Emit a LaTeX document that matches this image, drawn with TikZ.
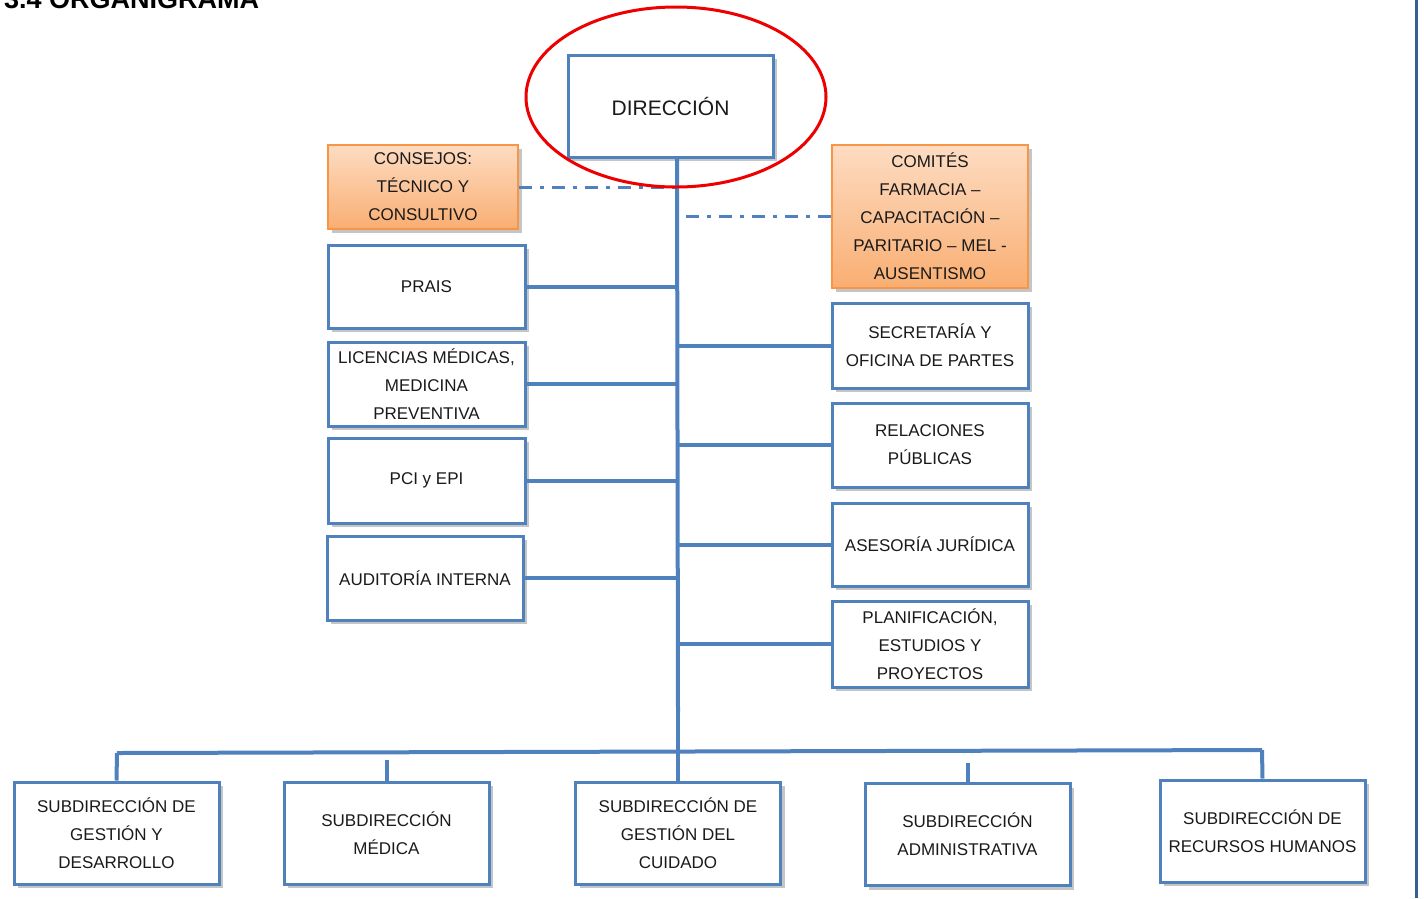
\documentclass[tikz,border=0pt]{standalone}
\usepackage{fontspec}
\setmainfont{Liberation Sans}
\usetikzlibrary{shadows,shapes.geometric}
\definecolor{boxblue}{HTML}{4F81BD}
\definecolor{edgeblue}{HTML}{365F91}
\definecolor{orgtop}{HTML}{FDDCC2}
\definecolor{orgbot}{HTML}{F9AE72}
\definecolor{orgline}{HTML}{F79646}
\definecolor{txt}{HTML}{1A1A1A}
\definecolor{ellred}{HTML}{EE0000}
\tikzset{
  box/.style={draw=boxblue, line width=3pt, fill=white, text=txt, align=center,
    font=\fontsize{17}{28}\selectfont, inner sep=0pt,
    drop shadow={opacity=0.45, shadow xshift=4pt, shadow yshift=-4pt}},
  obox/.style={draw=orgline, line width=1.2pt, top color=orgtop, bottom color=orgbot,
    text=txt, align=center, font=\fontsize{17}{28}\selectfont, inner sep=0pt,
    drop shadow={opacity=0.45, shadow xshift=4pt, shadow yshift=-4pt}},
  conn/.style={draw=boxblue, line width=4pt},
  dd/.style={draw=boxblue, line width=3pt, dash pattern=on 13pt off 8pt on 4pt off 8pt},
}
\begin{document}
\begin{tikzpicture}[x=1pt,y=-1pt]
\useasboundingbox (0,0) rectangle (1424,898);
\fill[white] (0,0) rectangle (1424,898);
% title (cut by the top edge, as in the reference)
\node[anchor=base west, inner sep=0pt, font=\fontsize{27}{30}\selectfont\bfseries, text=black] (title) at (4,8) {3.4 ORGANIGRAMA};
% right border line
\coordinate (rbt) at (1416,0);
\coordinate (rbb) at (1416,898);
\draw[edgeblue, line width=3pt] (rbt) -- (rbb);

% trunk coordinates
\coordinate (ttop) at (677,157);
\coordinate (tmid) at (678,712);
\coordinate (busL) at (117,753);
\coordinate (busR) at (1262,750);

% boxes
\node[box, minimum width=205pt, minimum height=102pt, font=\fontsize{21}{24}\selectfont] (dir) at (670.5,106) {DIRECCIÓN};

\node[obox, minimum width=190pt, minimum height=84pt] (cons) at (423,187) {CONSEJOS:\\TÉCNICO Y\\CONSULTIVO};
\node[obox, minimum width=196pt, minimum height=143pt] (com) at (930,216.5) {COMITÉS\\FARMACIA –\\CAPACITACIÓN –\\PARITARIO – MEL -\\AUSENTISMO};

\node[box, minimum width=197pt, minimum height=83pt] (prais) at (426.5,286.5) {PRAIS};
\node[box, minimum width=197pt, minimum height=84pt] (lic) at (426.5,384) {LICENCIAS MÉDICAS,\\MEDICINA\\PREVENTIVA};
\node[box, minimum width=197pt, minimum height=85pt] (pci) at (426.5,480.5) {PCI y EPI};
\node[box, minimum width=196pt, minimum height=84pt] (aud) at (425,578) {AUDITORÍA INTERNA};

\node[box, minimum width=196pt, minimum height=85pt] (sec) at (930,345.5) {SECRETARÍA Y\\OFICINA DE PARTES};
\node[box, minimum width=196pt, minimum height=84pt] (rel) at (930,445) {RELACIONES\\PÚBLICAS};
\node[box, minimum width=196pt, minimum height=83pt] (ase) at (930,544.5) {ASESORÍA JURÍDICA};
\node[box, minimum width=196pt, minimum height=86pt] (plan) at (930,644) {PLANIFICACIÓN,\\ESTUDIOS Y\\PROYECTOS};

\node[box, minimum width=205pt, minimum height=102pt] (gd) at (116.5,833) {SUBDIRECCIÓN DE\\GESTIÓN Y\\DESARROLLO};
\node[box, minimum width=205pt, minimum height=102pt] (med) at (386.5,833) {SUBDIRECCIÓN\\MÉDICA};
\node[box, minimum width=205pt, minimum height=102pt] (cuid) at (678,833) {SUBDIRECCIÓN DE\\GESTIÓN DEL\\CUIDADO};
\node[box, minimum width=205pt, minimum height=102pt] (adm) at (967.5,834.5) {SUBDIRECCIÓN\\ADMINISTRATIVA};
\node[box, minimum width=205pt, minimum height=102pt] (rh) at (1262.5,831) {SUBDIRECCIÓN DE\\RECURSOS HUMANOS};

% dash-dot links
\draw[dd] (cons.east) -- (cons.east -| ttop);
\draw[dd] (com.west) -- (com.west -| ttop);

% trunk
\draw[conn] (ttop) -- (tmid);
\draw[conn] (tmid -| cuid.north) -- (cuid.north);

% left branches
\draw[conn] (prais.east) -- (prais.east -| ttop);
\draw[conn] (lic.east) -- (lic.east -| ttop);
\draw[conn] (pci.east) -- (pci.east -| ttop);
\draw[conn] (aud.east) -- (aud.east -| ttop);
% right branches
\draw[conn] (sec.west) -- (sec.west -| ttop);
\draw[conn] (rel.west) -- (rel.west -| ttop);
\draw[conn] (ase.west) -- (ase.west -| ttop);
\draw[conn] (plan.west) -- (plan.west -| ttop);

% bottom bus
\draw[conn] (busL) -- (busR);
\draw[conn] (busL) -- (gd.north);
\draw[conn] (med.north) -- ++(0,-21);
\draw[conn] (adm.north) -- ++(0,-19);
\draw[conn] (busR) -- (rh.north);

% red ellipse
\node[draw=ellred, line width=3pt, ellipse, minimum width=300pt, minimum height=180pt] (ell) at (676,97) {};
\end{tikzpicture}
\end{document}
